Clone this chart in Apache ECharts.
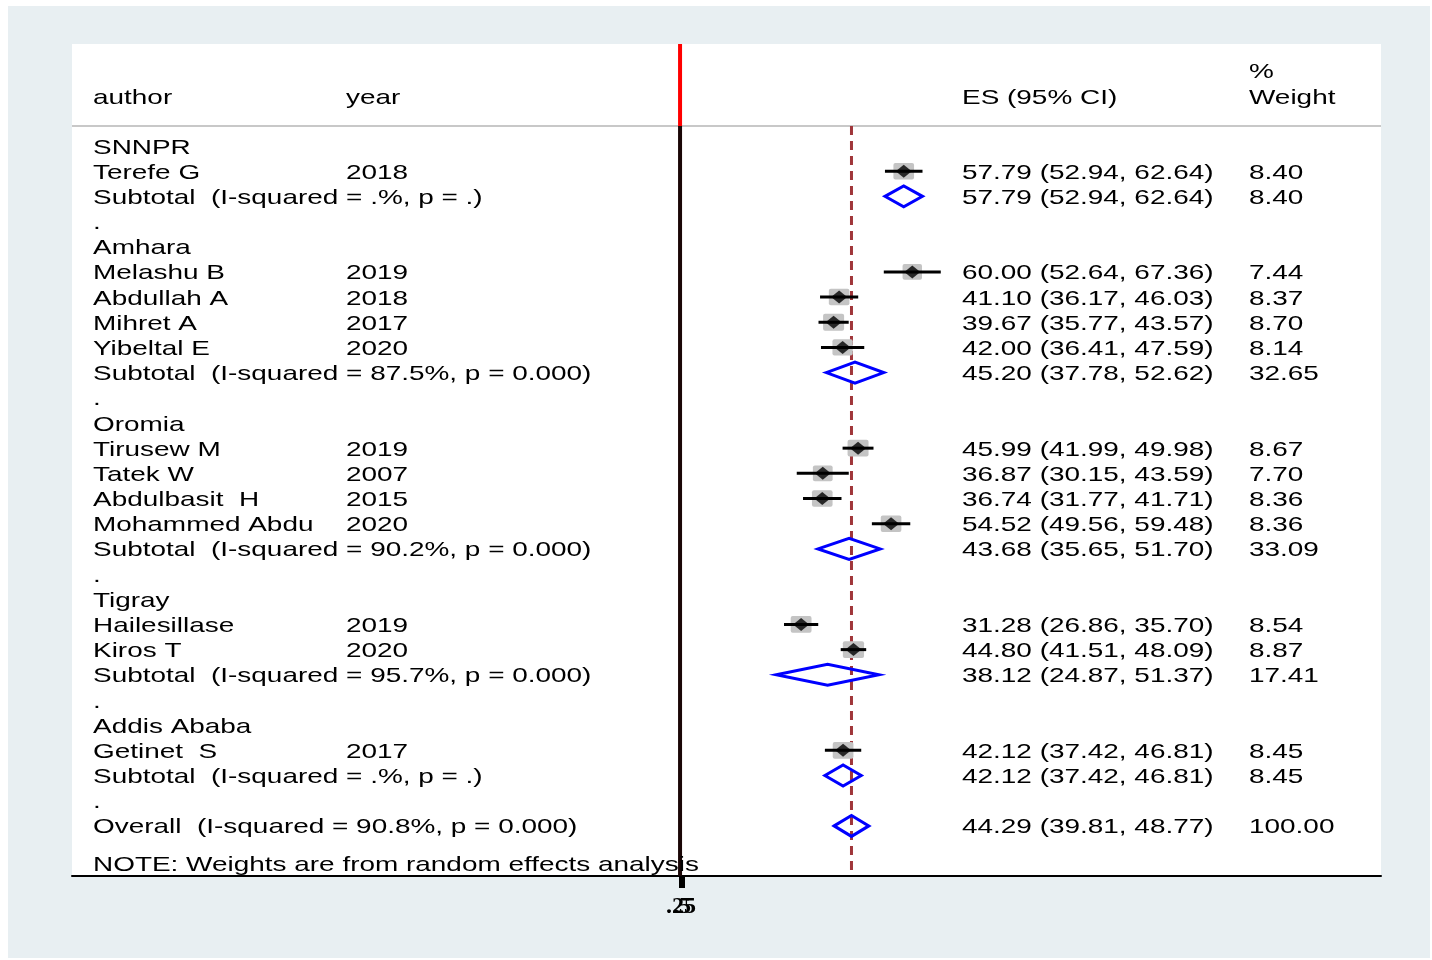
<!DOCTYPE html>
<html><head><meta charset="utf-8">
<script src="https://cdn.jsdelivr.net/npm/echarts@6/dist/echarts.min.js"></script>
<style>html,body{margin:0;padding:0;background:#fff}#c{width:1432px;height:960px}</style>
</head><body><div id="c"></div>
<script>
// ---------- data ----------
const headers = ['author', 'year', 'ES (95% CI)', '%', 'Weight'];
const rowLabels = ['SNNPR','Terefe G','Subtotal  (I-squared = .%, p = .)','.',
  'Amhara','Melashu B','Abdullah A','Mihret A','Yibeltal E','Subtotal  (I-squared = 87.5%, p = 0.000)','.',
  'Oromia','Tirusew M','Tatek W','Abdulbasit  H','Mohammed Abdu','Subtotal  (I-squared = 90.2%, p = 0.000)','.',
  'Tigray','Hailesillase','Kiros T','Subtotal  (I-squared = 95.7%, p = 0.000)','.',
  'Addis Ababa','Getinet  S','Subtotal  (I-squared = .%, p = .)','.',
  'Overall  (I-squared = 90.8%, p = 0.000)'];
const rowKind = ['g','s','t','d','g','s','s','s','s','t','d','g','s','s','s','s','t','d','g','s','s','t','d','g','s','t','d','o'];
const years = ['','2018','','','','2019','2018','2017','2020','','','','2019','2007','2015','2020','','','','2019','2020','','','','2017','','',''];
const es = [null,57.79,57.79,null,null,60.00,41.10,39.67,42.00,45.20,null,null,45.99,36.87,36.74,54.52,43.68,null,null,31.28,44.80,38.12,null,null,42.12,42.12,null,44.29];
const lo = [null,52.94,52.94,null,null,52.64,36.17,35.77,36.41,37.78,null,null,41.99,30.15,31.77,49.56,35.65,null,null,26.86,41.51,24.87,null,null,37.42,37.42,null,39.81];
const hi = [null,62.64,62.64,null,null,67.36,46.03,43.57,47.59,52.62,null,null,49.98,43.59,41.71,59.48,51.70,null,null,35.70,48.09,51.37,null,null,46.81,46.81,null,48.77];
const weights = [null,8.40,8.40,null,null,7.44,8.37,8.70,8.14,32.65,null,null,8.67,7.70,8.36,8.36,33.09,null,null,8.54,8.87,17.41,null,null,8.45,8.45,null,100.00];
const noteText = 'NOTE: Weights are from random effects analysis';
const tickValues = [0.25, 0.5];
const tickLabels = ['.25', '.5'];
const overallES = 44.29;

// ---------- layout ----------
const FONT = '21px "Liberation Sans", Arial, Helvetica, sans-serif';
const SX = 1.33;
const TY = 1.8;
const COLX = {author: 93, year: 346, es: 962, weight: 1249};
const Y_MIN = -4.05, Y_MAX = 28.99, HEADER_LINE = -0.794, NOTE_ROW = 28.5;
const X_MIN = -157.1, X_MAX = 181.1;

const chart = echarts.init(document.getElementById('c'), null, {renderer: 'canvas'});

const studyIdx = rowKind.map((k, i) => k === 's' ? i : -1).filter(i => i >= 0);
const diamondIdx = rowKind.map((k, i) => (k === 't' || k === 'o') ? i : -1).filter(i => i >= 0);

function txt(x, y, s) {
  return {type: 'text', x: x, y: y + TY, scaleX: SX, scaleY: 1,
    style: {text: s, font: FONT, fill: '#000', align: 'left', verticalAlign: 'middle'}};
}

const textData = rowLabels.map((_, i) => [0, i]);
textData.push([0, NOTE_ROW]);

const tickLabelStyle = {fontFamily: '"Liberation Serif", serif', fontWeight: 'bold', fontSize: 24, color: '#000'};

const option = {
  animation: false,
  backgroundColor: '#ffffff',
  graphic: [
    {type: 'rect', shape: {x: 8, y: 6, width: 1422, height: 952}, style: {fill: '#e8eff2'}, z: -10, silent: true},
    {type: 'rect', shape: {x: 72, y: 44, width: 1309, height: 832}, style: {fill: '#ffffff'}, z: -9, silent: true}
  ],
  grid: {left: 72, right: 51, top: 44, bottom: 84, containLabel: false},
  xAxis: [
    {
      type: 'value', min: X_MIN, max: X_MAX, position: 'bottom',
      axisLine: {show: true, onZero: false, lineStyle: {color: '#000', width: 2}},
      axisTick: {show: true, customValues: tickValues, length: 12, lineStyle: {color: '#000', width: 5}},
      axisLabel: Object.assign({show: true, customValues: [tickValues[0]], margin: 19,
        formatter: () => tickLabels[0]}, tickLabelStyle),
      splitLine: {show: false}
    },
    {
      type: 'value', min: X_MIN, max: X_MAX, position: 'bottom', offset: 0,
      axisLine: {show: false}, axisTick: {show: false},
      axisLabel: Object.assign({show: true, customValues: [tickValues[1]], margin: 19,
        formatter: () => tickLabels[1]}, tickLabelStyle),
      splitLine: {show: false}
    }
  ],
  yAxis: {type: 'value', inverse: true, min: Y_MIN, max: Y_MAX, show: false, splitLine: {show: false}},
  series: [
    // reference lines
    {
      type: 'custom', silent: true, z: 1,
      data: [[0, 0]],
      renderItem: (params, api) => {
        const top = api.coord([0, Y_MIN]), bot = api.coord([0, Y_MAX]);
        const hl = api.coord([0, HEADER_LINE]);
        const ov1 = api.coord([overallES, HEADER_LINE]), ov2 = api.coord([overallES, Y_MAX]);
        const L = params.coordSys.x, R = params.coordSys.x + params.coordSys.width;
        return {type: 'group', children: [
          {type: 'line', shape: {x1: L, y1: hl[1], x2: R, y2: hl[1]}, style: {stroke: '#c8c8c8', lineWidth: 2}},
          {type: 'line', shape: {x1: top[0], y1: top[1], x2: hl[0], y2: hl[1]}, style: {stroke: '#ff0000', lineWidth: 4}},
          {type: 'line', shape: {x1: hl[0], y1: hl[1], x2: bot[0], y2: bot[1]}, style: {stroke: '#1a0606', lineWidth: 4}},
          {type: 'line', shape: {x1: ov1[0], y1: ov1[1], x2: ov2[0], y2: ov2[1]}, style: {stroke: '#a0363a', lineWidth: 3, lineDash: [9, 6]}}
        ]};
      }
    },
    // weight boxes
    {
      type: 'custom', silent: true, z: 2,
      data: studyIdx.map(i => [es[i], i, weights[i]]),
      renderItem: (params, api) => {
        const c = api.coord([api.value(0), api.value(1)]);
        const h = 5.7 * Math.sqrt(api.value(2));
        const w = h * 1.25;
        return {type: 'rect', shape: {x: c[0] - w / 2, y: c[1] - h / 2, width: w, height: h, r: 2}, style: {fill: '#c4c4c4'}};
      }
    },
    // confidence intervals
    {
      type: 'custom', silent: true, z: 3,
      data: studyIdx.map(i => [lo[i], i, hi[i]]),
      renderItem: (params, api) => {
        const a = api.coord([api.value(0), api.value(1)]);
        const b = api.coord([api.value(2), api.value(1)]);
        return {type: 'line', shape: {x1: a[0], y1: a[1], x2: b[0], y2: b[1]}, style: {stroke: '#000', lineWidth: 3}};
      }
    },
    // point estimates
    {
      type: 'scatter', silent: true, z: 4,
      symbol: 'diamond', symbolSize: [16, 13],
      itemStyle: {color: '#000'},
      data: studyIdx.map(i => [es[i], i])
    },
    // pooled diamonds
    {
      type: 'custom', silent: true, z: 4,
      data: diamondIdx.map(i => [es[i], i, lo[i], hi[i]]),
      renderItem: (params, api) => {
        const c = api.coord([api.value(0), api.value(1)]);
        const a = api.coord([api.value(2), api.value(1)]);
        const b = api.coord([api.value(3), api.value(1)]);
        const hh = 10.5;
        return {type: 'polygon', shape: {points: [[a[0], c[1]], [c[0], c[1] - hh], [b[0], c[1]], [c[0], c[1] + hh]]},
          style: {fill: 'none', stroke: '#0000ff', lineWidth: 3, lineJoin: 'miter'}};
      }
    },
    // text columns
    {
      type: 'custom', silent: true, z: 5,
      data: textData,
      renderItem: (params, api) => {
        const i = params.dataIndex;
        const y = api.coord([0, api.value(1)])[1];
        const kids = [];
        if (i === 0) {
          const hy = api.coord([0, -1.985])[1];
          const py = api.coord([0, -3.02])[1];
          kids.push(txt(COLX.author, hy, headers[0]));
          kids.push(txt(COLX.year, hy, headers[1]));
          kids.push(txt(COLX.es, hy, headers[2]));
          kids.push(txt(COLX.weight, py, headers[3]));
          kids.push(txt(COLX.weight, hy, headers[4]));
        }
        if (i >= rowLabels.length) {
          kids.push(txt(COLX.author, y, noteText));
          return {type: 'group', children: kids};
        }
        kids.push(txt(COLX.author, y, rowLabels[i]));
        if (years[i]) kids.push(txt(COLX.year, y, years[i]));
        if (es[i] != null) {
          kids.push(txt(COLX.es, y, es[i].toFixed(2) + ' (' + lo[i].toFixed(2) + ', ' + hi[i].toFixed(2) + ')'));
          kids.push(txt(COLX.weight, y, weights[i].toFixed(2)));
        }
        return {type: 'group', children: kids};
      }
    }
  ]
};
chart.setOption(option);
</script>
</body></html>
